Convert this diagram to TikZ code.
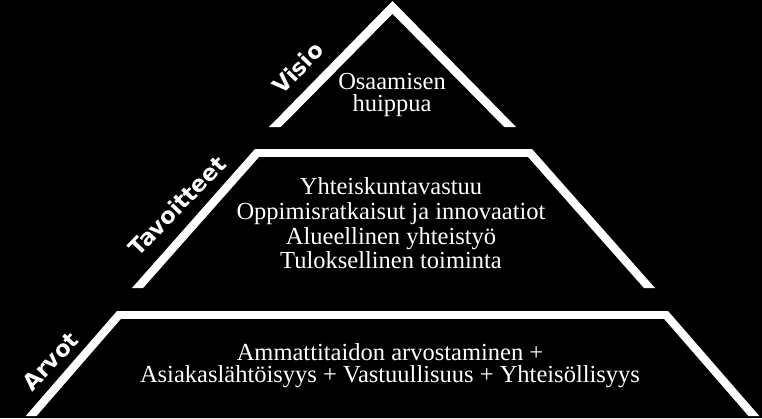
\documentclass[tikz,border=0pt]{standalone}
\usepackage{fontspec}
\setmainfont{Liberation Serif}
\newfontfamily\labelfont{DejaVu Sans}
\begin{document}
\begin{tikzpicture}[x={(1pt,0)},y={(0,-1pt)},
  outerband/.style={fill=white},
  innerband/.style={fill=black},
  layertext/.style={text=white, anchor=base, inner sep=0pt, font=\fontsize{24.5}{24.5}\selectfont},
  layerlabel/.style={text=white, inner sep=0pt, rotate=46, font=\labelfont\bfseries\fontsize{22.5}{22.5}\selectfont}]
\useasboundingbox (0,0) rectangle (762,418);
\fill[black] (0,0) rectangle (762,418);
% top triangle
\fill[outerband] (269,127) -- (392.5,1) -- (516,127) -- cycle;
\fill[innerband] (279,129) -- (392.5,14) -- (506,129) -- cycle;
% middle trapezoid
\fill[outerband] (132,288) -- (255,149) -- (532,149) -- (655,288) -- cycle;
\fill[innerband] (141.5,290) -- (259.2,157) -- (527.8,157) -- (645.5,290) -- cycle;
% bottom trapezoid
\fill[outerband] (25.7,416) -- (117,311) -- (668,311) -- (759.3,416) -- cycle;
\fill[innerband] (35,418) -- (121,319) -- (664,319) -- (750,418) -- cycle;
% texts
\node[layertext] (v1) at (392,89) {Osaamisen};
\node[layertext] (v2) at (392,111) {huippua};
\node[layertext] (t1) at (391,194) {Yhteiskuntavastuu};
\node[layertext] (t2) at (391,219) {Oppimisratkaisut ja innovaatiot};
\node[layertext] (t3) at (391,244) {Alueellinen yhteistyö};
\node[layertext] (t4) at (391,268) {Tuloksellinen toiminta};
\node[layertext] (a1) at (390,360) {Ammattitaidon arvostaminen +};
\node[layertext] (a2) at (390,382) {Asiakaslähtöisyys + Vastuullisuus + Yhteisöllisyys};
% labels
\node[layerlabel] (lv) at (297.5,68) {Visio};
\node[layerlabel] (lt) at (177,206) {Tavoitteet};
\node[layerlabel] (la) at (50.5,361.5) {Arvot};
\end{tikzpicture}
\end{document}
